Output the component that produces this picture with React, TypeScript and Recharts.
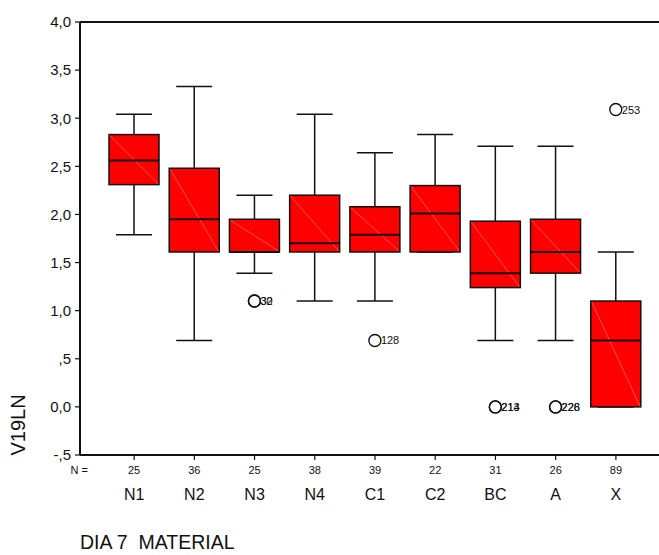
import { Bar, ComposedChart, Label, ReferenceLine, XAxis, YAxis } from "recharts";

const categories = ["N1", "N2", "N3", "N4", "C1", "C2", "BC", "A", "X"];
const counts = [25, 36, 25, 38, 39, 22, 31, 26, 89];
const mins = [1.79, 0.69, 1.39, 1.1, 1.1, 1.61, 0.69, 0.69, 0.0];
const q1s = [2.31, 1.61, 1.61, 1.61, 1.61, 1.61, 1.24, 1.39, 0.0];
const medians = [2.56, 1.95, 1.61, 1.7, 1.79, 2.01, 1.39, 1.61, 0.69];
const q3s = [2.83, 2.48, 1.95, 2.2, 2.08, 2.3, 1.93, 1.95, 1.1];
const maxs = [3.04, 3.33, 2.2, 3.04, 2.64, 2.83, 2.71, 2.71, 1.61];

const outlierCats = ["N3", "N3", "C1", "BC", "BC", "A", "A", "X"];
const outlierValues = [1.1, 1.1, 0.69, 0.0, 0.0, 0.0, 0.0, 3.09];
const outlierLabels = ["30", "32", "128", "213", "214", "226", "228", "253"];

const yTicks = [-0.5, 0, 0.5, 1, 1.5, 2, 2.5, 3, 3.5, 4];

const FONT = "Arial, 'Liberation Sans', sans-serif";
const INK = "#111";

const data = categories.map((cat, i) => ({
  cat,
  n: counts[i],
  min: mins[i],
  q1: q1s[i],
  median: medians[i],
  q3: q3s[i],
  max: maxs[i],
  outliers: outlierCats
    .map((c, j) => ({ c, value: outlierValues[j], label: outlierLabels[j] }))
    .filter((o) => o.c === cat),
}));

// SPSS style: ",5" instead of "0,5", comma as decimal mark
function fmtTick(v: number) {
  if (v === 0) return "0,0";
  const s = v.toFixed(1).replace(".", ",");
  return s.replace(/^(-?)0,/, "$1,");
}

function BoxShape(props: any) {
  const { x, y, width, height, payload } = props;
  const top = Math.min(y, y + height);
  const h = Math.abs(height);
  const span = payload.max - payload.min || 1;
  // the bar spans [min, max]; the axis is linear so other values follow from it
  const py = (v: number) => top + ((payload.max - v) / span) * h;
  const cx = x + width / 2;
  const left = x;
  const right = x + width;
  const cap = 18;
  const yq1 = py(payload.q1);
  const yq3 = py(payload.q3);
  const ymed = py(payload.median);
  const ymin = py(payload.min);
  const ymax = py(payload.max);

  return (
    <g>
      <line x1={cx} x2={cx} y1={ymax} y2={yq3} stroke={INK} strokeWidth={1.5} />
      <line x1={cx} x2={cx} y1={yq1} y2={ymin} stroke={INK} strokeWidth={1.5} />
      <line x1={cx - cap} x2={cx + cap} y1={ymax} y2={ymax} stroke={INK} strokeWidth={1.5} />
      <line x1={cx - cap} x2={cx + cap} y1={ymin} y2={ymin} stroke={INK} strokeWidth={1.5} />
      <rect x={left} y={yq3} width={width} height={yq1 - yq3} fill="#ff0000" stroke={INK} strokeWidth={1.5} />
      <line x1={left + 1} y1={yq3 + 1} x2={right - 1} y2={yq1 - 1} stroke="#ff8a8a" strokeWidth={0.6} />
      <line x1={left} x2={right} y1={ymed} y2={ymed} stroke={INK} strokeWidth={2} />
      {payload.outliers.map((o: any, k: number) => (
        <g key={k}>
          <circle cx={cx} cy={py(o.value)} r={6} fill="none" stroke={INK} strokeWidth={1.4} />
          <text
            x={cx + 6}
            y={py(o.value) + 4}
            fontSize={11}
            fontFamily={FONT}
            fill={INK}
          >
            {o.label}
          </text>
        </g>
      ))}
    </g>
  );
}

function CategoryTick(props: any) {
  const { x, y, payload } = props;
  const i = categories.indexOf(payload.value);
  return (
    <g transform={`translate(${x},${y})`}>
      {i === 0 && (
        <text x={-55} dy={12} textAnchor="middle" fontSize={11} fontFamily={FONT} fill={INK}>
          N =
        </text>
      )}
      <text dy={12} textAnchor="middle" fontSize={11} fontFamily={FONT} fill={INK}>
        {counts[i]}
      </text>
      <text dy={38} textAnchor="middle" fontSize={16} fontFamily={FONT} fill={INK}>
        {payload.value}
      </text>
    </g>
  );
}

export default function App() {
  return (
    <div
      style={{
        position: "fixed",
        top: 0,
        left: 0,
        width: 659,
        height: 555,
        overflow: "hidden",
        background: "#fff",
      }}
    >
      <ComposedChart
        width={700}
        height={555}
        data={data}
        margin={{ top: 22, right: 30, bottom: 0, left: 0 }}
      >
        <XAxis
          dataKey="cat"
          type="category"
          interval={0}
          height={100}
          padding={{ left: 24, right: 24 }}
          axisLine={{ stroke: INK, strokeWidth: 2 }}
          tickLine={{ stroke: INK, strokeWidth: 1.2 }}
          tickSize={5}
          tick={<CategoryTick />}
        >
          <Label
            content={({ viewBox }: any) => (
              <text
                x={viewBox.x}
                y={549}
                fontSize={19.5}
                fontFamily={FONT}
                fill={INK}
                style={{ whiteSpace: "pre" }}
              >
                DIA 7  MATERIAL
              </text>
            )}
          />
        </XAxis>
        <YAxis
          type="number"
          domain={[-0.5, 4]}
          ticks={yTicks}
          width={80}
          tickFormatter={fmtTick}
          axisLine={{ stroke: INK, strokeWidth: 2 }}
          tickLine={{ stroke: INK, strokeWidth: 1.2 }}
          tickSize={5}
          tickMargin={4}
          tick={{ fontSize: 15, fill: INK, fontFamily: FONT }}
        >
          <Label
            content={({ viewBox }: any) => (
              <text
                x={viewBox.x + 18}
                y={viewBox.y + viewBox.height - 30}
                transform={`rotate(-90, ${viewBox.x + 18}, ${viewBox.y + viewBox.height - 30})`}
                textAnchor="middle"
                dominantBaseline="central"
                fontSize={20}
                fontFamily={FONT}
                fill={INK}
              >
                V19LN
              </text>
            )}
          />
        </YAxis>
        <ReferenceLine y={4} stroke={INK} strokeWidth={2} />
        <Bar
          dataKey={(d: any) => [d.min, d.max]}
          barSize={50}
          shape={<BoxShape />}
          isAnimationActive={false}
        />
      </ComposedChart>
    </div>
  );
}
